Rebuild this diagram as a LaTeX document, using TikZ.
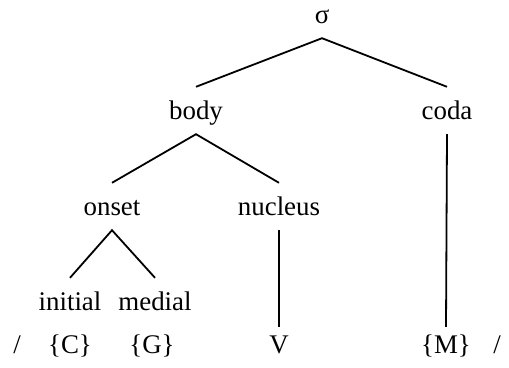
\documentclass[tikz,border=0pt]{standalone}
\usepackage{fontspec}
\setmainfont{Liberation Serif}
\usepackage{tikz}
\usetikzlibrary{positioning}
\tikzset{
  branch/.style={line width=1.8bp},
  constit/.style={anchor=base, inner xsep=0pt, inner ysep=8bp, text height=24bp, text depth=7bp},
  segment/.style={anchor=base, inner xsep=0pt, inner ysep=6bp, text height=20bp, text depth=7bp}
}

\begin{document}
\begin{tikzpicture}[x=1bp, y=-1bp, every node/.style={font=\fontsize{27}{32}\selectfont}]
  \useasboundingbox (0,0) rectangle (509,367);
  \node[constit] (syl) at (322,23) {σ};
  \node[constit] (body) at (196,119) {body};
  \node[constit] (coda) at (447,119) {coda};
  \node[constit] (onset) at (112,215) {onset};
  \node[constit] (nuc) at (279,215) {nucleus};
  \node[constit] (ini) at (70,310) {initial};
  \node[constit] (med) at (155,310) {medial};
  \node[segment] (slashl) at (17,353) {/};
  \node[segment] (segc) at (70,353) {\{C\}};
  \node[segment] (segg) at (152,353) {\{G\}};
  \node[segment] (segv) at (279,353) {V};
  \node[segment] (segm) at (446,353) {\{M\}};
  \node[segment] (slashr) at (497,353) {/};
  \draw[branch] (body.north) -- (syl.south) -- (coda.north);
  \draw[branch] (onset.north) -- (body.south) -- (nuc.north);
  \draw[branch] (ini.north) -- (onset.south) -- (med.north);
  \draw[branch] (nuc.south) -- (segv.north);
  \draw[branch] (coda.south) -- (segm.north);
\end{tikzpicture}
\end{document}
